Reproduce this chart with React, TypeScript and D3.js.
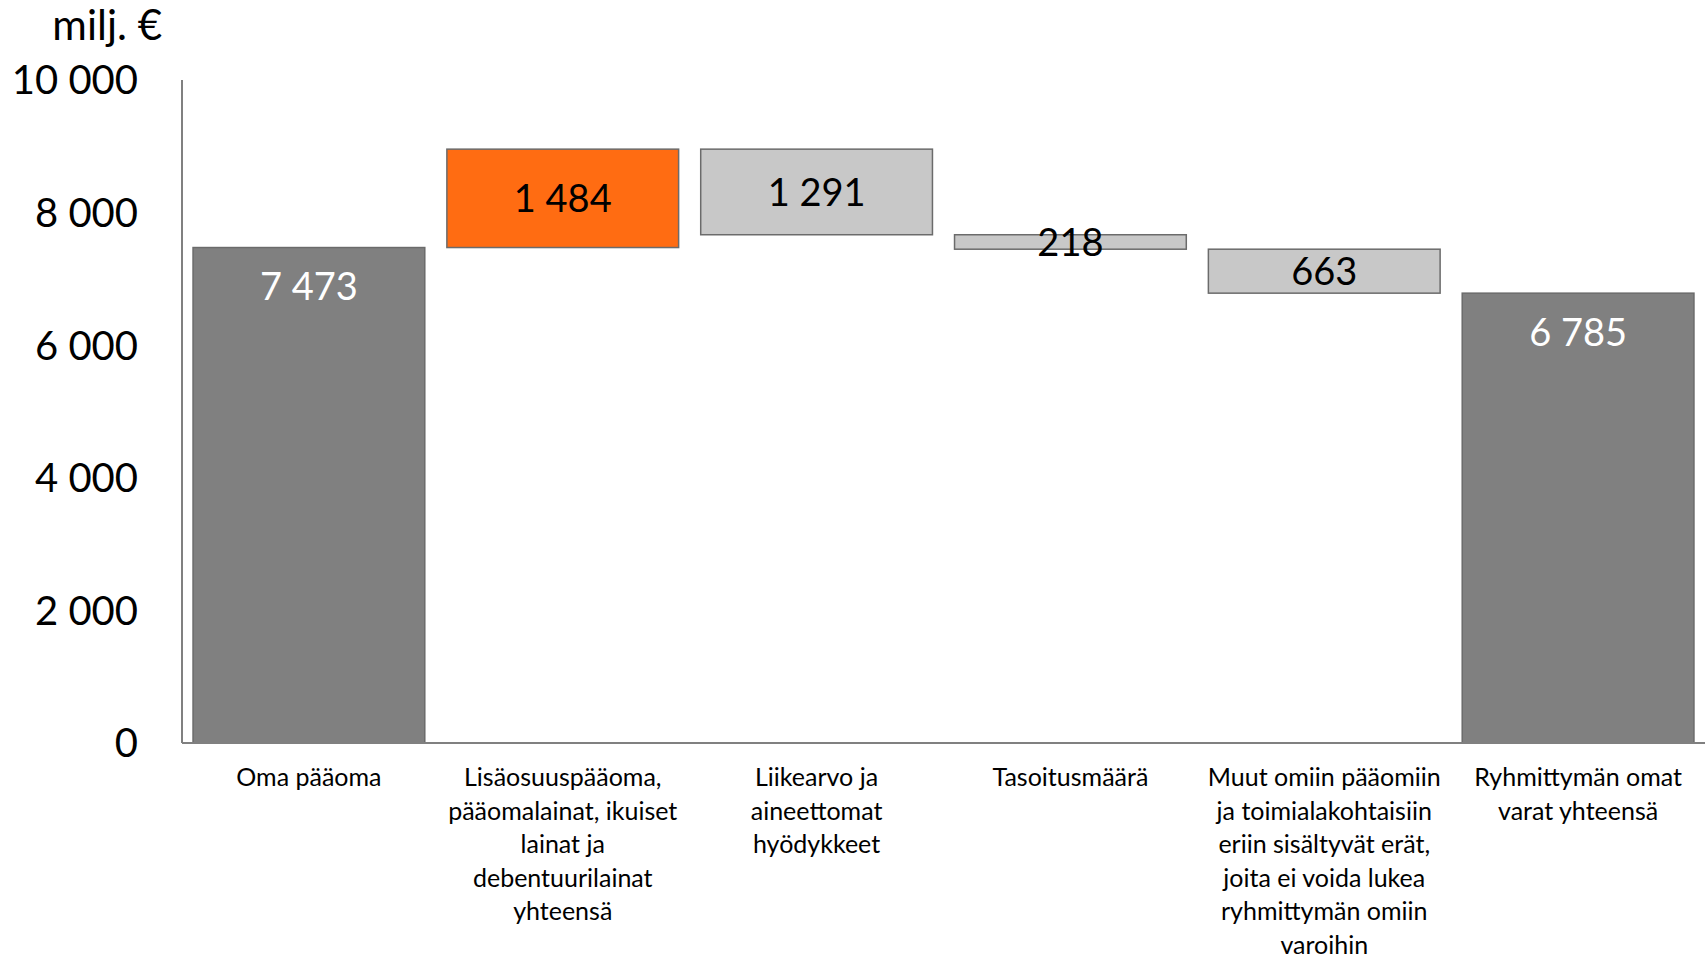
import React from "react";
import * as d3 from "d3";

const categories = [
  ["Oma pääoma"],
  ["Lisäosuuspääoma,", "pääomalainat, ikuiset", "lainat ja", "debentuurilainat", "yhteensä"],
  ["Liikearvo ja", "aineettomat", "hyödykkeet"],
  ["Tasoitusmäärä"],
  ["Muut omiin pääomiin", "ja toimialakohtaisiin", "eriin sisältyvät erät,", "joita ei voida lukea", "ryhmittymän omiin", "varoihin"],
  ["Ryhmittymän omat", "varat yhteensä"],
];
// signed change per step; "total" steps start from zero
const values = [7473, 1484, -1291, -218, -663, 6785];
const kinds = ["total", "up", "down", "down", "down", "total"];
const yTicks = [0, 2000, 4000, 6000, 8000, 10000];

const W = 1705;
const H = 961;
const margin = { left: 182, right: 0, top: 80, bottom: 218 };
const font = "Lato, 'Open Sans', sans-serif";

const fills: Record<string, string> = {
  total: "#808080",
  up: "#ff6c12",
  down: "#c8c8c8",
};

const fmt = (v: number) => d3.format(",")(Math.abs(v)).replace(/,/g, " ");

export default function App() {
  const x = d3
    .scaleBand<number>()
    .domain(d3.range(categories.length))
    .range([margin.left, W - margin.right])
    .paddingInner(0.087)
    .paddingOuter(0.0435);
  const y = d3.scaleLinear().domain([0, 10000]).range([H - margin.bottom, margin.top]);

  // compute waterfall segments
  let running = 0;
  const bars = values.map((v, i) => {
    let lo: number, hi: number;
    if (kinds[i] === "total") {
      lo = 0;
      hi = v;
      running = v;
    } else {
      const next = running + v;
      lo = Math.min(running, next);
      hi = Math.max(running, next);
      running = next;
    }
    return { i, lo, hi, v, kind: kinds[i] };
  });

  const y0 = y(0);

  return (
    <div>
      <style>{"body{margin:0}"}</style>
      <svg width={W} height={H} style={{ display: "block", fontFamily: font }}>
        <rect width={W} height={H} fill="#fff" />
        <text x={162} y={40} textAnchor="end" fontSize={42} fill="#000">
          milj. €
        </text>
        {yTicks.map((t) => (
          <text
            key={t}
            x={138}
            y={y(t)}
            dy="0.36em"
            textAnchor="end"
            fontSize={40}
            fill="#000"
          >
            {fmt(t)}
          </text>
        ))}
        {bars.map((b) => {
          const bx = x(b.i)!;
          const top = y(b.hi);
          const bot = y(b.lo);
          const cy = b.kind === "total" ? top + 39 : (top + bot) / 2;
          return (
            <g key={b.i}>
              <rect
                x={bx}
                y={top}
                width={x.bandwidth()}
                height={bot - top}
                fill={fills[b.kind]}
                stroke="#6b6b6b"
                strokeWidth={1.5}
              />
              <text
                x={bx + x.bandwidth() / 2}
                y={cy}
                dy="0.36em"
                textAnchor="middle"
                fontSize={38}
                fill={b.kind === "total" ? "#fff" : "#000"}
              >
                {fmt(b.v)}
              </text>
            </g>
          );
        })}
        <line x1={margin.left} x2={margin.left} y1={margin.top} y2={y0} stroke="#808080" strokeWidth={2} />
        <line x1={margin.left} x2={W} y1={y0} y2={y0} stroke="#808080" strokeWidth={2} />
        {categories.map((lines, i) => (
          <text
            key={i}
            x={x(i)! + x.bandwidth() / 2}
            y={786}
            textAnchor="middle"
            fontSize={25}
            fill="#000"
          >
            {lines.map((l, j) => (
              <tspan key={j} x={x(i)! + x.bandwidth() / 2} dy={j === 0 ? 0 : 33.5}>
                {l}
              </tspan>
            ))}
          </text>
        ))}
      </svg>
    </div>
  );
}
